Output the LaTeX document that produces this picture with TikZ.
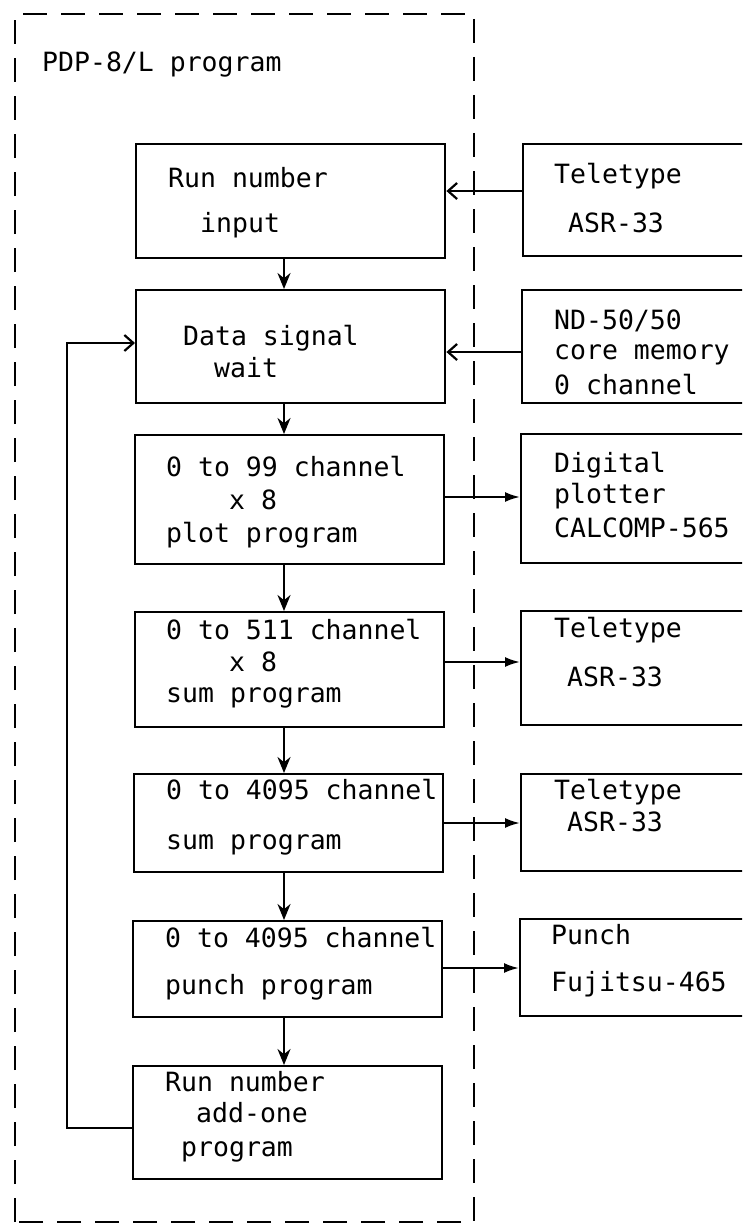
\documentclass[tikz,border=0pt]{standalone}
\usepackage{fontspec}
\setmonofont{DejaVu Sans Mono}
\usetikzlibrary{arrows.meta}
\begin{document}
\begin{tikzpicture}[x=1pt,y=-1pt,
  pbox/.style={draw, line width=2.4pt, anchor=north west, inner sep=0pt, minimum width=309pt},
  dbox/.style={draw, line width=2.4pt, anchor=north west, inner sep=0pt, minimum width=260pt},
  lbl/.style={anchor=base west, inner sep=0pt, font=\fontsize{26.5}{26.5}\selectfont\ttfamily},
  conn/.style={line width=2.2pt},
  downarr/.style={conn, -{Stealth[length=16pt,width=13pt]}},
  inarr/.style={conn, -{Straight Barb[length=9pt,width=16pt,line width=2.2pt]}},
  outarr/.style={conn, -{Latex[length=15pt,width=10pt]}},
  frame/.style={line width=2.6pt, dash pattern=on 24pt off 14pt}
]
\useasboundingbox (0,0) rectangle (742,1228);
\clip (0,0) rectangle (742,1228);

% outer dashed frame
\draw[frame] (15,1222) -- (15,14) -- (474,14) -- (474,1222) -- cycle;
\node[lbl] (title) at (42,72) {PDP-8/L program};

% program boxes
\node[pbox, minimum height=114pt] (b1) at (135,143) {};
\node[pbox, minimum height=113pt] (b2) at (135,289) {};
\node[pbox, minimum height=129pt] (b3) at (134,434) {};
\node[pbox, minimum height=115pt] (b4) at (134,611) {};
\node[pbox, minimum height=98pt]  (b5) at (133,773) {};
\node[pbox, minimum height=96pt]  (b6) at (132,920) {};
\node[pbox, minimum height=113pt] (b7) at (132,1065) {};

% device boxes
\node[dbox, minimum height=112pt] (d1) at (522,143) {};
\node[dbox, minimum height=113pt] (d2) at (521,289) {};
\node[dbox, minimum height=129pt] (d3) at (520,433) {};
\node[dbox, minimum height=114pt] (d4) at (520,610) {};
\node[dbox, minimum height=97pt]  (d5) at (520,773) {};
\node[dbox, minimum height=97pt]  (d6) at (519,918) {};

% program box texts
\node[lbl] (t1a) at (168,187) {Run number};
\node[lbl] (t1b) at (200,232) {input};
\node[lbl] (t2a) at (183,345) {Data signal};
\node[lbl] (t2b) at (214,377) {wait};
\node[lbl] (t3a) at (166,476) {0 to 99 channel};
\node[lbl] (t3b) at (229,509) {x 8};
\node[lbl] (t3c) at (166,542) {plot program};
\node[lbl] (t4a) at (166,639) {0 to 511 channel};
\node[lbl] (t4b) at (229,671) {x 8};
\node[lbl] (t4c) at (166,702) {sum program};
\node[lbl] (t5a) at (166,799) {0 to 4095 channel};
\node[lbl] (t5b) at (166,849) {sum program};
\node[lbl] (t6a) at (165,947) {0 to 4095 channel};
\node[lbl] (t6b) at (165,994) {punch program};
\node[lbl] (t7a) at (165,1091) {Run number};
\node[lbl] (t7b) at (196,1122) {add-one};
\node[lbl] (t7c) at (181,1156) {program};

% device texts
\node[lbl] (u1a) at (554,183) {Teletype};
\node[lbl] (u1b) at (568,232) {ASR-33};
\node[lbl] (u2a) at (554,329) {ND-50/50};
\node[lbl] (u2b) at (554,359) {core memory};
\node[lbl] (u2c) at (554,394) {0 channel};
\node[lbl] (u3a) at (554,472) {Digital};
\node[lbl] (u3b) at (554,503) {plotter};
\node[lbl] (u3c) at (554,537) {CALCOMP-565};
\node[lbl] (u4a) at (554,637) {Teletype};
\node[lbl] (u4b) at (567,686) {ASR-33};
\node[lbl] (u5a) at (554,799) {Teletype};
\node[lbl] (u5b) at (567,831) {ASR-33};
\node[lbl] (u6a) at (551,944) {Punch};
\node[lbl] (u6b) at (551,991) {Fujitsu-465};

% downward flow
\draw[downarr] (b1.south -| 284,0) -- (b2.north -| 284,0);
\draw[downarr] (b2.south -| 284,0) -- (b3.north -| 284,0);
\draw[downarr] (b3.south -| 284,0) -- (b4.north -| 284,0);
\draw[downarr] (b4.south -| 284,0) -- (b5.north -| 284,0);
\draw[downarr] (b5.south -| 284,0) -- (b6.north -| 284,0);
\draw[downarr] (b6.south -| 284,0) -- (b7.north -| 284,0);

% inputs from devices
\draw[inarr] (d1.west |- 0,191) -- (b1.east |- 0,191);
\draw[inarr] (d2.west |- 0,352) -- (b2.east |- 0,352);

% outputs to devices
\draw[outarr] (b3.east |- 0,497) -- (d3.west |- 0,497);
\draw[outarr] (b4.east |- 0,662) -- (d4.west |- 0,662);
\draw[outarr] (b5.east |- 0,823) -- (d5.west |- 0,823);
\draw[outarr] (b6.east |- 0,968) -- (d6.west |- 0,968);

% feedback loop
\coordinate (fb) at (67,0);
\draw[conn, -{Straight Barb[length=9pt,width=16pt,line width=2.2pt]}]
  (b7.west |- 0,1128) -- (fb |- 0,1128) -- (fb |- 0,343) -- (b2.west |- 0,343);
\end{tikzpicture}
\end{document}
